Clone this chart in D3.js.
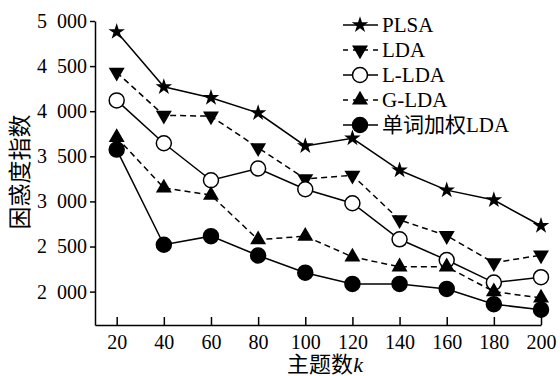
<!DOCTYPE html>
<html>
<head>
<meta charset="utf-8">
<script src="https://cdn.jsdelivr.net/npm/d3@7"></script>
<style>
  body { margin: 0; background: #fff; }
  svg text { font-family: "Liberation Serif", "Noto Sans CJK SC", serif; fill: #000; }
</style>
</head>
<body>
<div id="chart"></div>
<script>
// topic counts k
const topics = [20, 40, 60, 80, 100, 120, 140, 160, 180, 200];

// perplexity values per model
const plsa = [4880, 4270, 4150, 3980, 3615, 3700, 3345, 3125, 3015, 2730];
const lda = [4430, 3955, 3945, 3595, 3250, 3290, 2795, 2620, 2320, 2405];
const lLda = [4120, 3645, 3235, 3365, 3135, 2980, 2580, 2350, 2100, 2160];
const gLda = [3710, 3150, 3070, 2575, 2615, 2385, 2275, 2275, 2000, 1930];
const wLda = [3575, 2520, 2615, 2400, 2210, 2085, 2085, 2030, 1860, 1800];

const seriesNames = ["PLSA", "LDA", "L-LDA", "G-LDA", "单词加权LDA"];
const yTicks = [2000, 2500, 3000, 3500, 4000, 4500, 5000];

const width = 560, height = 376;
const margin = {left: 95, top: 21, right: 19, bottom: 51};

const svg = d3.select("#chart")
  .append("svg")
  .attr("width", width)
  .attr("height", height);

const x = d3.scaleLinear()
  .domain([10.8, 200])
  .range([margin.left, width - margin.right]);

const y = d3.scaleLinear()
  .domain([1630, 5000])
  .range([height - margin.bottom, margin.top]);

// axes
const fmt = d => d3.format(",")(d).replace(",", "\u2002");

const yAxis = svg.append("g")
  .attr("transform", "translate(" + margin.left + ",0)")
  .call(d3.axisLeft(y).tickValues(yTicks).tickFormat(fmt).tickSize(5).tickSizeOuter(0).tickPadding(3));

const xAxis = svg.append("g")
  .attr("transform", "translate(0," + (height - margin.bottom) + ")")
  .call(d3.axisBottom(x).tickValues(topics).tickSize(-8).tickSizeOuter(0).tickPadding(10));

[xAxis, yAxis].forEach(a => {
  a.selectAll("path, line").attr("stroke", "#000").attr("stroke-width", 1.5);
  a.selectAll("text").style("font-size", "20px");
});

// axis titles
svg.append("text")
  .attr("transform", "translate(28,172) rotate(-90)")
  .attr("text-anchor", "middle")
  .style("font-size", "23px")
  .text("困惑度指数");

const xl = svg.append("text")
  .attr("x", 325)
  .attr("y", 372)
  .attr("text-anchor", "middle")
  .style("font-size", "22px")
  .text("主题数");
xl.append("tspan").style("font-style", "italic").text("k");

// series definitions
const series = [
  {name: seriesNames[0], values: plsa, dash: null, symbol: d3.symbolStar, size: 85, fill: "#000", rot: 0},
  {name: seriesNames[1], values: lda, dash: "6,4", symbol: d3.symbolTriangle, size: 110, fill: "#000", rot: 180},
  {name: seriesNames[2], values: lLda, dash: null, symbol: null, size: 7.5, fill: "#fff", rot: 0},
  {name: seriesNames[3], values: gLda, dash: "6,4", symbol: d3.symbolTriangle, size: 110, fill: "#000", rot: 0},
  {name: seriesNames[4], values: wLda, dash: null, symbol: null, size: 7.5, fill: "#000", rot: 0}
];

const line = d3.line()
  .x(d => x(d.k))
  .y(d => y(d.v));

function drawMarker(g, s) {
  if (s.symbol) {
    g.append("path")
      .attr("d", d3.symbol().type(s.symbol).size(s.size))
      .attr("transform", "rotate(" + s.rot + ")")
      .attr("fill", "#000");
  } else {
    g.append("circle")
      .attr("r", s.size)
      .attr("fill", s.fill)
      .attr("stroke", "#000")
      .attr("stroke-width", 1.5);
  }
}

series.forEach(s => {
  const pts = topics.map((k, i) => ({k: k, v: s.values[i]}));
  svg.append("path")
    .datum(pts)
    .attr("fill", "none")
    .attr("stroke", "#000")
    .attr("stroke-width", 1.5)
    .attr("stroke-dasharray", s.dash)
    .attr("d", line);

  pts.forEach(p => {
    const g = svg.append("g")
      .attr("transform", "translate(" + x(p.k) + "," + y(p.v) + ")");
    drawMarker(g, s);
  });
});

// legend
const legend = svg.append("g").attr("transform", "translate(343,25)");
series.forEach((s, i) => {
  const row = legend.append("g").attr("transform", "translate(0," + (i * 25) + ")");
  row.append("line")
    .attr("x1", 0).attr("x2", 35)
    .attr("stroke", "#000")
    .attr("stroke-width", 1.5)
    .attr("stroke-dasharray", s.dash ? "5,5" : null);
  const m = row.append("g").attr("transform", "translate(17,0)");
  drawMarker(m, s);
  row.append("text")
    .attr("x", 39)
    .attr("dy", "0.35em")
    .style("font-size", "21px")
    .text(s.name);
});
</script>
</body>
</html>
